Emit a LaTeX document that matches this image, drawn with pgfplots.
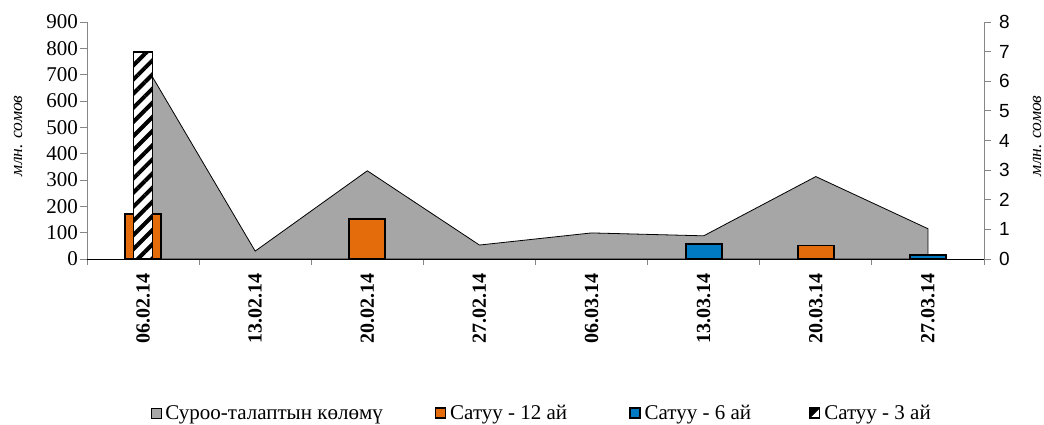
\documentclass[border=0pt]{standalone}
\usepackage{fontspec}
\setmainfont{Liberation Serif}
\setsansfont{Liberation Sans}
\usepackage{pgfplots}
\pgfplotsset{compat=1.18}
\usetikzlibrary{patterns.meta}
\definecolor{areagray}{RGB}{166,166,166}
\definecolor{barorange}{RGB}{228,108,10}
\definecolor{barblue}{RGB}{0,122,195}
\definecolor{axgray}{RGB}{134,134,134}
\begin{document}
\begin{tikzpicture}[x=1pt,y=1pt]
\path[use as bounding box] (0,0) rectangle (1044,425);
\begin{axis}[
  at={(87pt,166pt)}, anchor=south west,
  scale only axis, width=897pt, height=237pt,
  xmin=-0.5, xmax=7.5, ymin=0, ymax=900,
  axis x line*=bottom, axis y line*=left,
  x axis line style={black,-},
  y axis line style={axgray,-},
  xtick={0,...,7},
  xticklabels={06.02.14,13.02.14,20.02.14,27.02.14,06.03.14,13.03.14,20.03.14,27.03.14},
  major x tick style={draw=none},
  minor xtick={-0.5,0.5,...,7.5},
  minor x tick style={axgray, line width=0.8pt},
  minor tick length=6pt,
  xticklabel style={rotate=90, anchor=east, font=\bfseries\fontsize{20}{20}\selectfont, inner sep=0pt, xshift=-7pt},
  ytick={0,100,...,900},
  y tick style={axgray, line width=0.8pt},
  major tick length=7pt,
  tick align=outside,
  yticklabel style={font=\fontsize{21}{21}\selectfont, /pgf/number format/assume math mode=true, inner sep=1pt, xshift=-1pt},
  ylabel={млн. сомов},
  ylabel style={font=\itshape\fontsize{17.5}{17.5}\selectfont, at={(rel axis cs:-0.0769,0.52)}, anchor=center},
  legend columns=4,
  legend style={at={(rel axis cs:0.507,-0.65)}, anchor=center, draw=none, fill=none,
    font=\fontsize{21}{21}\selectfont,
    /tikz/column 1/.style={column sep=2pt},
    /tikz/column 2/.style={column sep=50pt},
    /tikz/column 3/.style={column sep=2pt},
    /tikz/column 4/.style={column sep=60pt},
    /tikz/column 5/.style={column sep=2pt},
    /tikz/column 6/.style={column sep=56pt},
    /tikz/column 7/.style={column sep=2pt}},
  legend cell align=left,
]
\addplot[draw=black, line width=0.8pt, fill=areagray,
  legend image code/.code={\draw[fill=areagray, draw=black, line width=0.6pt] (0pt,-5pt) rectangle (10pt,5pt);}]
  coordinates {(0,752) (1,30) (2,335) (3,53) (4,99) (5,88) (6,313) (7,115)} \closedcycle;
\addlegendentry{Суроо-талаптын көлөмү}
\addplot[ybar, bar width=36pt, bar shift=0pt, fill=barorange, draw=black, line width=1.8pt,
  legend image code/.code={\draw[fill=barorange, draw=black, line width=1.4pt] (0pt,-5pt) rectangle (10pt,5pt);}]
  coordinates {(0,171) (2,152) (6,51)};
\addlegendentry{Сатуу - 12 ай}
\addplot[ybar, bar width=36pt, bar shift=0pt, fill=barblue, draw=black, line width=1.8pt,
  legend image code/.code={\draw[fill=barblue, draw=black, line width=1.4pt] (0pt,-5pt) rectangle (10pt,5pt);}]
  coordinates {(5,58) (7,14)};
\addlegendentry{Сатуу - 6 ай}
\addlegendimage{legend image code/.code={\draw[fill=white, draw=black, line width=1.2pt] (0pt,-5pt) rectangle (10pt,5pt); \fill[black] (0pt,-5pt) -- (10pt,5pt) -- (0pt,5pt) -- cycle;}}
\addlegendentry{Сатуу - 3 ай}
\end{axis}
\begin{axis}[
  at={(87pt,166pt)}, anchor=south west,
  scale only axis, width=897pt, height=237pt,
  xmin=-0.5, xmax=7.5, ymin=0, ymax=8,
  axis x line=none, axis y line*=right,
  y axis line style={axgray,-},
  ytick={0,1,...,8},
  y tick style={axgray, line width=0.8pt},
  major tick length=7pt,
  tick align=outside,
  yticklabel style={font=\sffamily\fontsize{19}{19}\selectfont, /pgf/number format/assume math mode=true, inner sep=1pt, xshift=7pt},
  ylabel={млн. сомов},
  ylabel style={font=\itshape\fontsize{17.5}{17.5}\selectfont, at={(rel axis cs:1.0591,0.52)}, anchor=center},
]
\addplot[ybar, bar width=19pt, bar shift=0pt, fill=white, draw=black, line width=1.8pt,
  postaction={pattern={Lines[angle=45,distance=10pt,line width=4pt]}, pattern color=black}]
  coordinates {(0,7.0)};
\end{axis}
\end{tikzpicture}
\end{document}
